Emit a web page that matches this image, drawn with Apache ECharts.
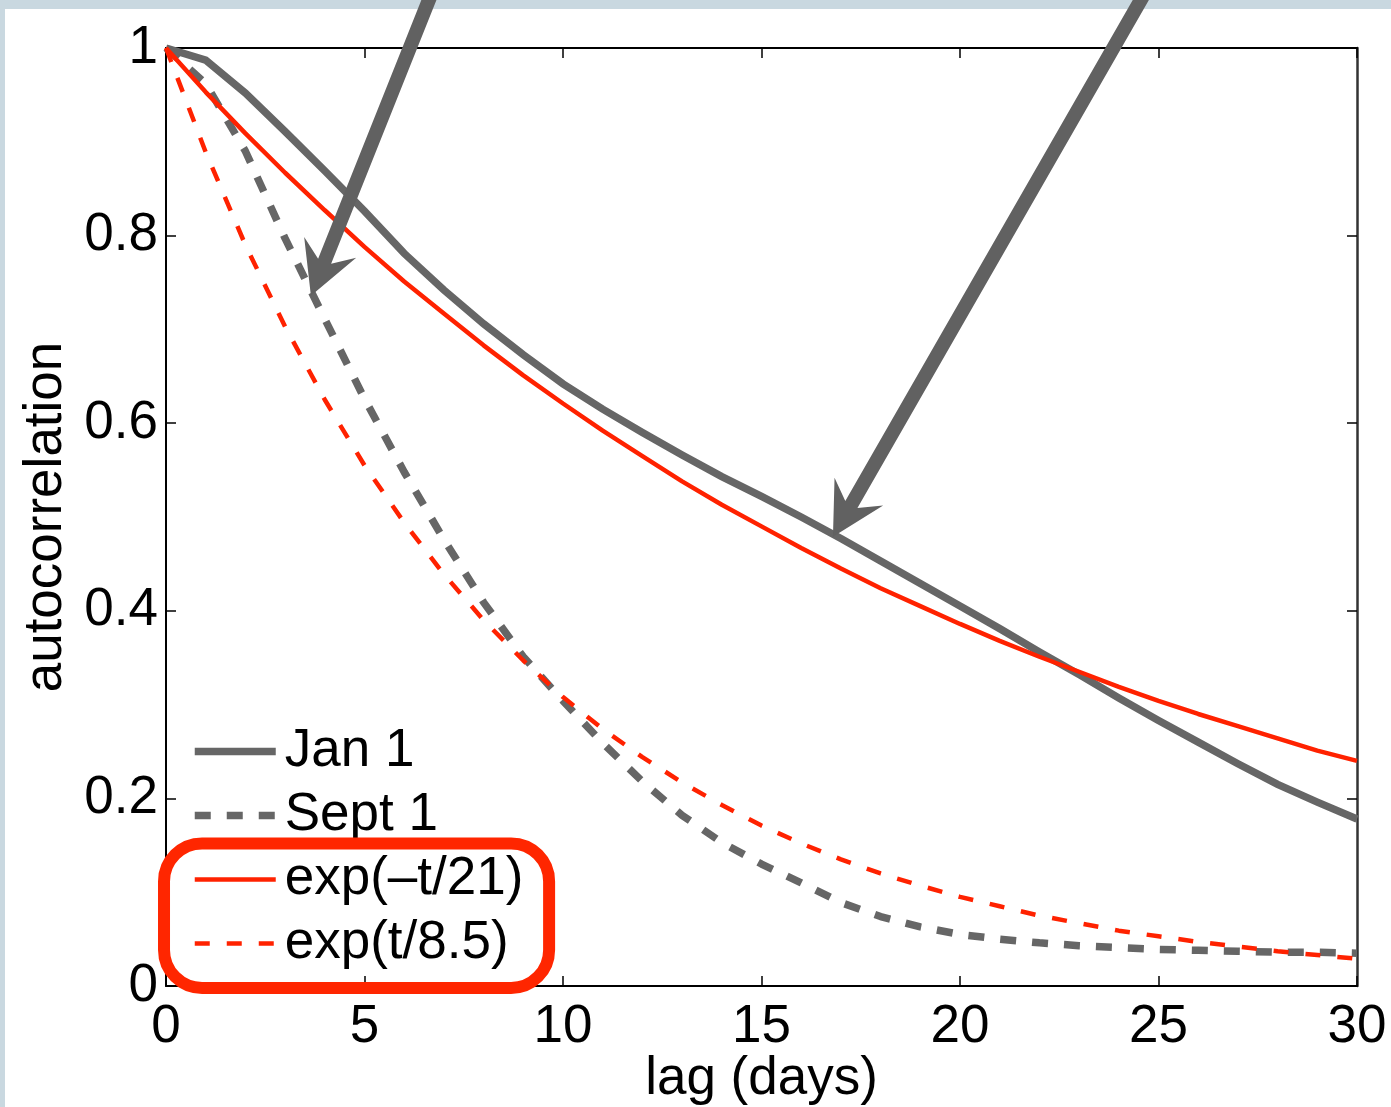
<!DOCTYPE html>
<html><head><meta charset="utf-8">
<script src="https://cdn.jsdelivr.net/npm/echarts@6/dist/echarts.min.js"></script>
<style>
html,body{margin:0;padding:0;width:1391px;height:1107px;overflow:hidden;background:#c9d8e0;}
#panel{position:absolute;left:5px;top:9px;width:1386px;height:1098px;background:#ffffff;}
#chart{position:absolute;left:0;top:0;width:1391px;height:1107px;}
</style></head><body>
<div id="panel"></div><div id="chart"></div>
<script>
// ---- data ----
const lagDays = [0,1,2,3,4,5,6,7,8,9,10,11,12,13,14,15,16,17,18,19,20,21,22,23,24,25,26,27,28,29,30];
const jan1 = [1.000,0.987,0.952,0.911,0.869,0.826,0.781,0.742,0.706,0.673,0.642,0.615,0.590,0.566,0.543,0.522,0.500,0.477,0.453,0.429,0.405,0.381,0.356,0.332,0.307,0.283,0.260,0.237,0.215,0.196,0.178];
const sept1 = [1.000,0.962,0.890,0.797,0.711,0.626,0.548,0.476,0.409,0.351,0.304,0.259,0.218,0.182,0.153,0.130,0.110,0.089,0.074,0.063,0.055,0.050,0.046,0.043,0.041,0.039,0.038,0.037,0.036,0.036,0.035];
const expSlow = [1.000,0.953,0.909,0.867,0.827,0.788,0.751,0.717,0.683,0.651,0.621,0.592,0.565,0.538,0.513,0.490,0.467,0.445,0.424,0.405,0.386,0.368,0.351,0.335,0.319,0.304,0.290,0.277,0.264,0.251,0.240];
const expFast = [1.000,0.889,0.790,0.703,0.625,0.555,0.494,0.439,0.390,0.347,0.308,0.274,0.244,0.217,0.193,0.171,0.152,0.135,0.120,0.107,0.095,0.085,0.075,0.067,0.059,0.053,0.047,0.042,0.037,0.033,0.029];
const seriesNames = ['Jan 1','Sept 1','exp(\u2013t/21)','exp(t/8.5)'];
const xAxisName = 'lag (days)';
const yAxisName = 'autocorrelation';
// annotation arrows: [tail, tip] in data units
const arrowTails = [[6.80,1.07],[24.81,1.07]];
const arrowTips  = [[3.65,0.736],[16.80,0.479]];
// highlight box around the fitted curves' legend entries (data units)
const boxCorners = [[-0.05,0.152],[9.65,-0.002]];

const FONT = '"Liberation Sans", Arial, Helvetica, sans-serif';
const FS = 53;
const GRAY = '#666666', RED = '#ff2200';
const pairs = ys => lagDays.map((d,i)=>[d, ys[i]]);

const chart = echarts.init(document.getElementById('chart'), null, {renderer:'canvas'});
const axisLineStyle = {color:'#000', width:2};
const tickStyle = {show:true, inside:true, length:10, lineStyle:{color:'#000', width:1.5}};
const option = {
  animation:false,
  backgroundColor:'transparent',
  textStyle:{fontFamily:FONT},
  grid:{left:166, top:48, right:34, bottom:121, containLabel:false, outerBoundsMode:'none'},
  xAxis:[
    {type:'value', min:0, max:30, interval:5, position:'bottom',
     name:xAxisName, nameLocation:'middle', nameGap:67, nameMoveOverlap:false,
     nameTextStyle:{fontSize:FS, color:'#000', fontFamily:FONT},
     axisLine:{show:true, onZero:false, lineStyle:axisLineStyle},
     axisTick:tickStyle, splitLine:{show:false},
     axisLabel:{fontSize:FS, color:'#000', margin:15, fontFamily:FONT}},
    {type:'value', min:0, max:30, interval:5, position:'top',
     axisLine:{show:true, onZero:false, lineStyle:axisLineStyle},
     axisTick:tickStyle, splitLine:{show:false}, axisLabel:{show:false}}
  ],
  yAxis:[
    {type:'value', min:0, max:1, interval:0.2, position:'left',
     name:yAxisName, nameLocation:'middle', nameGap:93,
     nameTextStyle:{fontSize:FS, color:'#000', fontFamily:FONT},
     axisLine:{show:true, onZero:false, lineStyle:axisLineStyle},
     axisTick:tickStyle, splitLine:{show:false},
     axisLabel:{fontSize:FS, color:'#000', margin:8, fontFamily:FONT}},
    {type:'value', min:0, max:1, interval:0.2, position:'right',
     axisLine:{show:true, onZero:false, lineStyle:{color:'#333', width:2.5}},
     axisTick:tickStyle, splitLine:{show:false}, axisLabel:{show:false}}
  ],
  legend:{
    orient:'vertical', left:191, top:725, padding:0,
    itemWidth:81, itemHeight:20, itemGap:11,
    lineStyle:{width:'inherit'},
    itemStyle:{color:'rgba(0,0,0,0)', borderWidth:0, opacity:0},
    textStyle:{fontSize:FS, lineHeight:FS, color:'#000', fontFamily:FONT, padding:[0,0,0,4]},
    data:seriesNames
  },
  series:[
    {name:seriesNames[0], type:'line', data:pairs(jan1), symbol:'none', showSymbol:false, color:GRAY,
     lineStyle:{color:GRAY, width:7.5, cap:'butt', join:'miter'}, z:2},
    {name:seriesNames[1], type:'line', data:pairs(sept1), symbol:'none', showSymbol:false, color:GRAY,
     lineStyle:{color:GRAY, width:7.5, type:[16,16], cap:'butt'}, z:3},
    {name:seriesNames[2], type:'line', data:pairs(expSlow), symbol:'none', showSymbol:false, color:RED,
     lineStyle:{color:RED, width:4.5}, z:4},
    {name:seriesNames[3], type:'line', data:pairs(expFast), symbol:'none', showSymbol:false, color:RED,
     lineStyle:{color:RED, width:4.5, type:[15,17], cap:'butt'}, z:5}
  ]
};
chart.setOption(option);

function arrowPolygon(p0, p1){
  const dx=p1[0]-p0[0], dy=p1[1]-p0[1], len=Math.hypot(dx,dy);
  const ux=dx/len, uy=dy/len, nx=-uy, ny=ux;
  const L=52, N=37, W=28, s=7;
  const pt=(a,b)=>[p1[0]-ux*a+nx*b, p1[1]-uy*a+ny*b];
  return [pt(0,0), pt(L,W), pt(N,s), pt(len,s), pt(len,-s), pt(N,-s), pt(L,-W)];
}
const toPx = v => chart.convertToPixel({xAxisIndex:0, yAxisIndex:0}, v);
const graphics = [];
arrowTails.forEach((tail,i)=>{
  graphics.push({type:'polygon', z:100, silent:true,
    shape:{points:arrowPolygon(toPx(tail), toPx(arrowTips[i]))},
    style:{fill:'#616161'}});
});
const b0 = toPx(boxCorners[0]), b1 = toPx(boxCorners[1]);
graphics.push({type:'rect', z:100, silent:true,
  shape:{x:b0[0], y:b0[1], width:b1[0]-b0[0], height:b1[1]-b0[1], r:38},
  style:{fill:'none', stroke:'#ff2600', lineWidth:12}});
chart.setOption({graphic:graphics});
</script>
</body></html>
